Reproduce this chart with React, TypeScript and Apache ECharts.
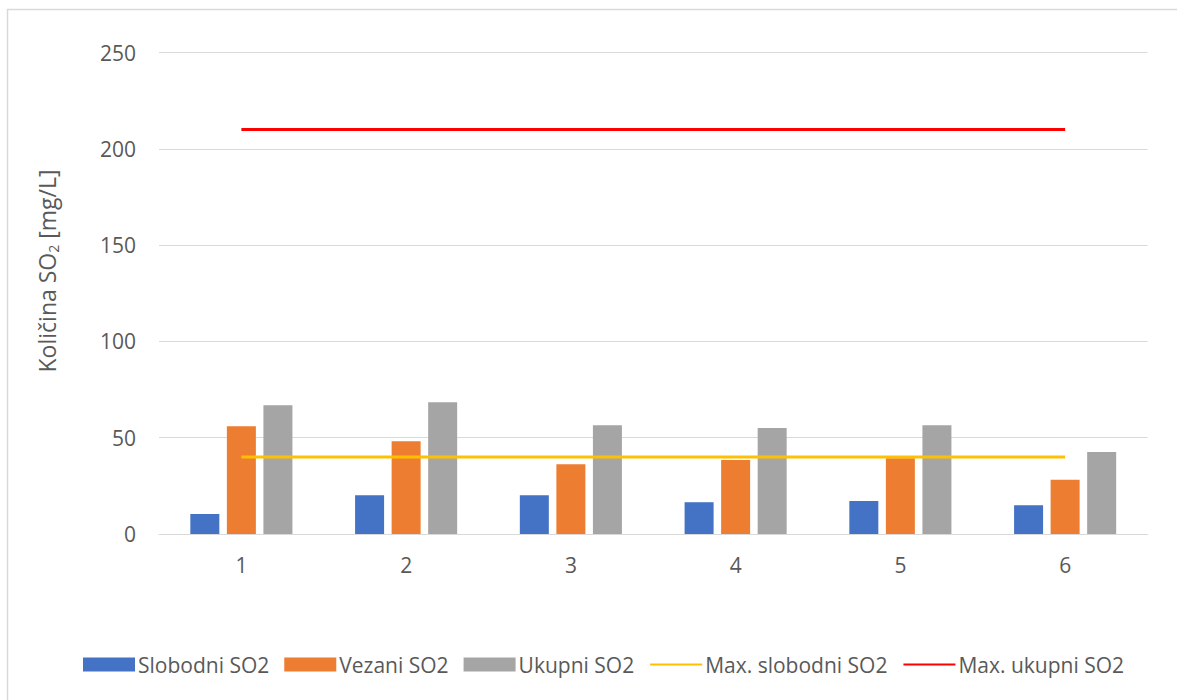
import React, { useEffect, useRef } from "react";
import * as echarts from "echarts";

const categories = ["1", "2", "3", "4", "5", "6"];
const slobodni = [10.4, 20.1, 20.1, 16.5, 17.1, 14.9];
const vezani = [56.0, 48.1, 36.2, 38.4, 39.3, 28.2];
const ukupni = [66.8, 68.4, 56.4, 55.0, 56.4, 42.6];
const maxSlobodni = [40, 40, 40, 40, 40, 40];
const maxUkupni = [210, 210, 210, 210, 210, 210];
const seriesNames = ["Slobodni SO2", "Vezani SO2", "Ukupni SO2", "Max. slobodni SO2", "Max. ukupni SO2"];

const FONT = "'Open Sans', sans-serif";

export default function App() {
  const ref = useRef<HTMLDivElement>(null);
  useEffect(() => {
    if (!ref.current) return;
    const chart = echarts.init(ref.current, null, { renderer: "svg" });
    const barBase = { type: "bar", barWidth: 29, barGap: "26%" };
    chart.setOption({
      animation: false,
      backgroundColor: "#ffffff",
      textStyle: { fontFamily: FONT },
      grid: { left: 159, right: 29.5, top: 52.5, bottom: 166, containLabel: false },
      legend: {
        bottom: 20,
        left: 78,
        itemWidth: 52,
        itemHeight: 14,
        itemGap: 15,
        textStyle: { fontFamily: FONT, fontSize: 21, color: "#595959", padding: [0, 0, 0, -2] },
        data: [
          { name: seriesNames[0], icon: "rect" },
          { name: seriesNames[1], icon: "rect" },
          { name: seriesNames[2], icon: "rect" },
          { name: seriesNames[3], itemStyle: { opacity: 0 } },
          { name: seriesNames[4], itemStyle: { opacity: 0 } },
        ],
      },
      xAxis: {
        type: "category",
        data: categories,
        axisLine: { lineStyle: { color: "#d9d9d9", width: 1 } },
        axisTick: { show: false },
        axisLabel: { color: "#595959", fontSize: 21, fontFamily: FONT, margin: 20 },
      },
      yAxis: {
        type: "value",
        min: 0,
        max: 250,
        interval: 50,
        axisLine: { show: false },
        axisTick: { show: false },
        splitLine: { lineStyle: { color: "#d9d9d9", width: 1 } },
        axisLabel: { color: "#595959", fontSize: 21, fontFamily: FONT, margin: 23 },
      },
      graphic: [
        {
          type: "rect",
          shape: { x: 7.5, y: 9.5, width: 1400, height: 1000 },
          style: { fill: "none", stroke: "#d9d9d9", lineWidth: 1.5 },
          silent: true,
        },
        {
          type: "text",
          x: 47,
          y: 271,
          rotation: Math.PI / 2,
          style: {
            text: "{a|Količina SO}{b|2}{a| [mg/L]}",
            align: "center",
            verticalAlign: "middle",
            rich: {
              a: { fontFamily: FONT, fontSize: 23, fill: "#595959", color: "#595959" },
              b: { fontFamily: FONT, fontSize: 14, fill: "#595959", color: "#595959", padding: [12, 0, 0, 0] },
            },
          },
        },
      ],
      series: [
        { ...barBase, name: seriesNames[0], data: slobodni, itemStyle: { color: "#4472C4" } },
        { ...barBase, name: seriesNames[1], data: vezani, itemStyle: { color: "#ED7D31" } },
        { ...barBase, name: seriesNames[2], data: ukupni, itemStyle: { color: "#A5A5A5" } },
        {
          type: "line",
          name: seriesNames[3],
          data: maxSlobodni,
          symbol: "none",
          itemStyle: { color: "#FFC000" },
          lineStyle: { color: "#FFC000", width: 3 },
        },
        {
          type: "line",
          name: seriesNames[4],
          data: maxUkupni,
          symbol: "none",
          itemStyle: { color: "#FF0000" },
          lineStyle: { color: "#FF0000", width: 3 },
        },
      ],
    });
    return () => chart.dispose();
  }, []);
  return (
    <div
      ref={ref}
      style={{ position: "absolute", left: 0, top: 0, width: 1177, height: 700 }}
    />
  );
}
